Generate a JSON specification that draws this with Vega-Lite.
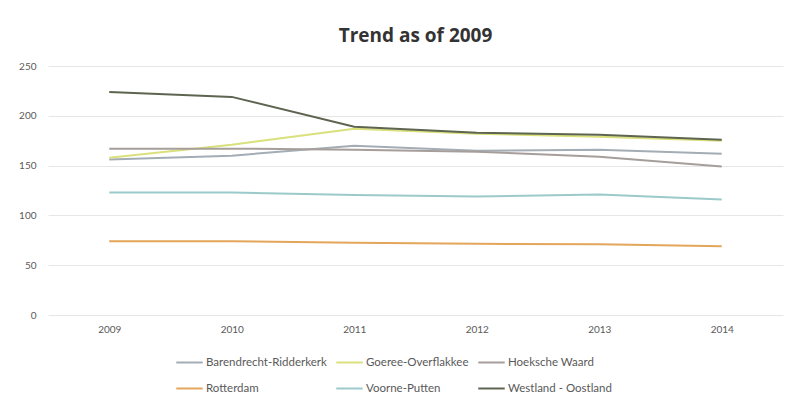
{
  "$schema": "https://vega.github.io/schema/vega-lite/v6.json",
  "width": 735,
  "height": 249,
  "autosize": {"type": "none"},
  "padding": {"left": 48, "top": 66, "right": 12, "bottom": 90},
  "background": "#ffffff",
  "title": {
    "text": "Trend as of 2009",
    "font": "Open Sans",
    "fontSize": 19,
    "fontWeight": "bold",
    "color": "#333333",
    "anchor": "middle",
    "offset": 15
  },
  "config": {"view": {"stroke": null}},
  "data": {
    "values": [
      {"region": "Barendrecht-Ridderkerk", "year": "2009", "value": 156},
      {"region": "Barendrecht-Ridderkerk", "year": "2010", "value": 160},
      {"region": "Barendrecht-Ridderkerk", "year": "2011", "value": 170},
      {"region": "Barendrecht-Ridderkerk", "year": "2012", "value": 165},
      {"region": "Barendrecht-Ridderkerk", "year": "2013", "value": 166},
      {"region": "Barendrecht-Ridderkerk", "year": "2014", "value": 162},
      {"region": "Goeree-Overflakkee", "year": "2009", "value": 158},
      {"region": "Goeree-Overflakkee", "year": "2010", "value": 171},
      {"region": "Goeree-Overflakkee", "year": "2011", "value": 187},
      {"region": "Goeree-Overflakkee", "year": "2012", "value": 182},
      {"region": "Goeree-Overflakkee", "year": "2013", "value": 179},
      {"region": "Goeree-Overflakkee", "year": "2014", "value": 175},
      {"region": "Hoeksche Waard", "year": "2009", "value": 167},
      {"region": "Hoeksche Waard", "year": "2010", "value": 167},
      {"region": "Hoeksche Waard", "year": "2011", "value": 166},
      {"region": "Hoeksche Waard", "year": "2012", "value": 164},
      {"region": "Hoeksche Waard", "year": "2013", "value": 159},
      {"region": "Hoeksche Waard", "year": "2014", "value": 149},
      {"region": "Rotterdam", "year": "2009", "value": 74},
      {"region": "Rotterdam", "year": "2010", "value": 74},
      {"region": "Rotterdam", "year": "2011", "value": 72.6},
      {"region": "Rotterdam", "year": "2012", "value": 71.5},
      {"region": "Rotterdam", "year": "2013", "value": 71},
      {"region": "Rotterdam", "year": "2014", "value": 69},
      {"region": "Voorne-Putten", "year": "2009", "value": 123},
      {"region": "Voorne-Putten", "year": "2010", "value": 123},
      {"region": "Voorne-Putten", "year": "2011", "value": 120.5},
      {"region": "Voorne-Putten", "year": "2012", "value": 119},
      {"region": "Voorne-Putten", "year": "2013", "value": 121},
      {"region": "Voorne-Putten", "year": "2014", "value": 116},
      {"region": "Westland - Oostland", "year": "2009", "value": 224},
      {"region": "Westland - Oostland", "year": "2010", "value": 219},
      {"region": "Westland - Oostland", "year": "2011", "value": 189},
      {"region": "Westland - Oostland", "year": "2012", "value": 183},
      {"region": "Westland - Oostland", "year": "2013", "value": 181},
      {"region": "Westland - Oostland", "year": "2014", "value": 176}
    ]
  },
  "mark": {"type": "line", "strokeWidth": 2},
  "encoding": {
    "x": {
      "field": "year",
      "type": "ordinal",
      "scale": {"type": "point", "padding": 0.5},
      "axis": {
        "title": null,
        "labelAngle": 0,
        "ticks": false,
        "domain": false,
        "labelFont": "Lato",
        "labelFontSize": 10,
        "labelColor": "#595959",
        "labelPadding": 9
      }
    },
    "y": {
      "field": "value",
      "type": "quantitative",
      "scale": {"domain": [0, 250]},
      "axis": {
        "title": null,
        "values": [0, 50, 100, 150, 200, 250],
        "ticks": false,
        "domain": false,
        "gridColor": "#e6e6e6",
        "labelFont": "Lato",
        "labelFontSize": 10,
        "labelColor": "#595959",
        "labelPadding": 12
      }
    },
    "color": {
      "field": "region",
      "type": "nominal",
      "scale": {
        "domain": ["Barendrecht-Ridderkerk", "Goeree-Overflakkee", "Hoeksche Waard", "Rotterdam", "Voorne-Putten", "Westland - Oostland"],
        "range": ["#a4adb5", "#d9e07c", "#a69e9a", "#e3a65a", "#9ccaca", "#5d6450"]
      },
      "legend": {
        "title": null,
        "orient": "none",
        "legendX": 127,
        "legendY": 282,
        "direction": "horizontal",
        "columns": 3,
        "columnPadding": 5,
        "rowPadding": 6,
        "symbolType": "stroke",
        "symbolSize": 700,
        "symbolStrokeWidth": 2,
        "labelFont": "Lato",
        "labelFontSize": 11.5,
        "labelColor": "#595959",
        "labelOffset": 2
      }
    }
  }
}
